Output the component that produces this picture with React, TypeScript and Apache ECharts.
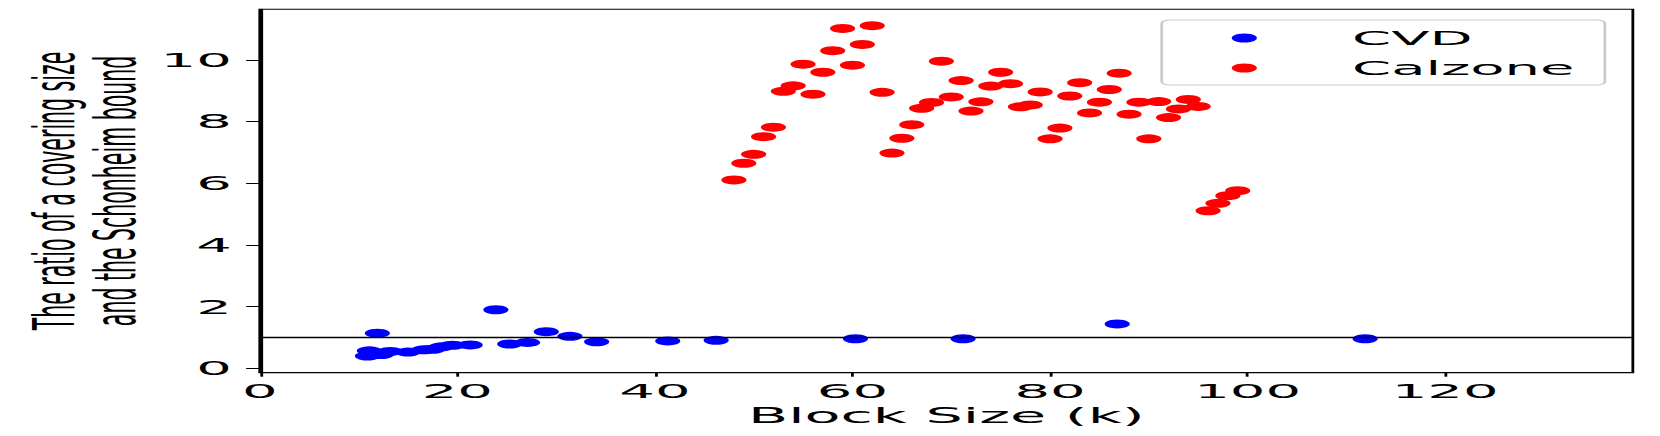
import React, { useEffect, useRef } from "react";
import * as echarts from "echarts";

// The reference figure is horizontally stretched; we draw at a base width and stretch with CSS.
const BASE_W = 593;
const H = 436;
const STRETCH = 1660 / BASE_W;

const xTicks = [0, 20, 40, 60, 80, 100, 120];
const yTicks = [0, 2, 4, 6, 8, 10];

const cvdK = [10.9, 11.1, 11.9, 12.3, 13.2, 15.0, 16.6, 17.5, 18.4, 19.5, 21.3, 23.9, 25.3, 27.1, 29.0, 31.4, 34.1, 41.3, 46.2, 60.3, 71.2, 86.8, 111.9];
const cvdRatio = [0.40, 0.57, 1.14, 0.45, 0.55, 0.53, 0.60, 0.62, 0.70, 0.75, 0.76, 1.90, 0.79, 0.84, 1.19, 1.04, 0.86, 0.89, 0.91, 0.96, 0.96, 1.44, 0.96];

const calzoneK = [48, 49, 50, 51, 52, 53, 54, 55, 56, 57, 58, 59, 60, 61, 62, 63, 64, 65, 66, 67, 68, 69, 70, 71, 72, 73, 74, 75, 76, 77, 78, 79, 80, 81, 82, 83, 84, 85, 86, 87, 88, 89, 90, 91, 92, 93, 94, 95, 96, 97, 98, 99];
const calzoneRatio = [6.11, 6.65, 6.94, 7.51, 7.82, 8.98, 9.16, 9.86, 8.89, 9.60, 10.30, 11.02, 9.83, 10.50, 11.11, 8.95, 6.98, 7.46, 7.90, 8.43, 8.62, 9.96, 8.80, 9.33, 8.34, 8.64, 9.15, 9.60, 9.23, 8.48, 8.54, 8.96, 7.44, 7.79, 8.83, 9.26, 8.28, 8.63, 9.04, 9.57, 8.24, 8.63, 7.44, 8.65, 8.13, 8.41, 8.72, 8.49, 5.11, 5.35, 5.60, 5.76];

const schonheimBound = 1;

const FONT = "DejaVu Sans";

export default function App() {
  const ref = useRef<HTMLDivElement>(null);

  useEffect(() => {
    if (!ref.current) return;
    const chart = echarts.init(ref.current, null, { renderer: "svg", width: BASE_W, height: H });
    const cvdData = cvdK.map((k, i) => [k, cvdRatio[i]]);
    const calData = calzoneK.map((k, i) => [k, calzoneRatio[i]]);
    chart.setOption({
      animation: false,
      backgroundColor: "#ffffff",
      grid: {
        left: 92.8,
        right: BASE_W - 583.3,
        top: 9.3,
        bottom: H - 372.7,
        containLabel: false,
        outerBoundsMode: "none",
        show: true,
        borderColor: "#000",
        borderWidth: 1,
        backgroundColor: "transparent",
      },
      legend: {
        left: 415,
        top: 20,
        orient: "vertical",
        icon: "circle",
        itemWidth: 9,
        itemHeight: 9,
        itemGap: 10,
        padding: [8, 10.8, 7, 25],
        backgroundColor: "rgba(255,255,255,0.8)",
        borderColor: "#cccccc",
        borderWidth: 1,
        borderRadius: 3,
        textStyle: {
          fontFamily: FONT,
          fontSize: 20,
          lineHeight: 20,
          color: "#000",
          padding: [0, 0, 0, 29],
        },
        data: ["CVD", "Calzone"],
      },
      xAxis: {
        type: "value",
        min: 0,
        max: 139,
        name: "Block Size (k)",
        nameLocation: "middle",
        nameGap: 32.5,
        nameMoveOverlap: false,
        nameTextStyle: { fontFamily: FONT, fontSize: 21, color: "#000" },
        splitLine: { show: false },
        axisLine: { show: true, onZero: false, lineStyle: { color: "#000", width: 1 } },
        axisTick: { show: true, length: 4, customValues: xTicks, lineStyle: { color: "#000", width: 1 } },
        axisLabel: {
          customValues: xTicks,
          fontFamily: FONT,
          fontSize: 20,
          color: "#000",
          margin: 8,
        },
      },
      yAxis: {
        type: "value",
        min: -0.14,
        max: 11.64,
        name: "The ratio of a covering size\nand the Schonheim bound",
        nameLocation: "middle",
        nameRotate: 90,
        nameGap: 41,
        nameMoveOverlap: false,
        nameTextStyle: { fontFamily: FONT, fontSize: 20.5, lineHeight: 21.6, color: "#000" },
        splitLine: { show: false },
        axisLine: { show: true, onZero: false, lineStyle: { color: "#000", width: 1 } },
        axisTick: { show: true, length: 4.9, customValues: yTicks, lineStyle: { color: "#000", width: 1 } },
        axisLabel: {
          customValues: yTicks,
          fontFamily: FONT,
          fontSize: 20,
          color: "#000",
          margin: 10,
        },
      },
      series: [
        {
          name: "CVD",
          type: "scatter",
          data: cvdData,
          symbol: "circle",
          symbolSize: 9,
          itemStyle: { color: "#0000ff", opacity: 1 },
          z: 2,
        },
        {
          name: "Calzone",
          type: "scatter",
          data: calData,
          symbol: "circle",
          symbolSize: 9,
          itemStyle: { color: "#ff0000", opacity: 1 },
          z: 3,
          markLine: {
            silent: true,
            symbol: ["none", "none"],
            label: { show: false },
            lineStyle: { color: "#000", width: 1.3, type: "solid" },
            data: [{ yAxis: schonheimBound }],
          },
        },
      ],
    });
    return () => chart.dispose();
  }, []);

  return (
    <div
      style={{
        position: "absolute",
        left: 0,
        top: 0,
        width: 1660,
        height: H,
        overflow: "hidden",
        background: "#fff",
      }}
    >
      <div
        ref={ref}
        style={{
          width: BASE_W,
          height: H,
          transform: `scaleX(${STRETCH})`,
          transformOrigin: "0 0",
        }}
      />
    </div>
  );
}
